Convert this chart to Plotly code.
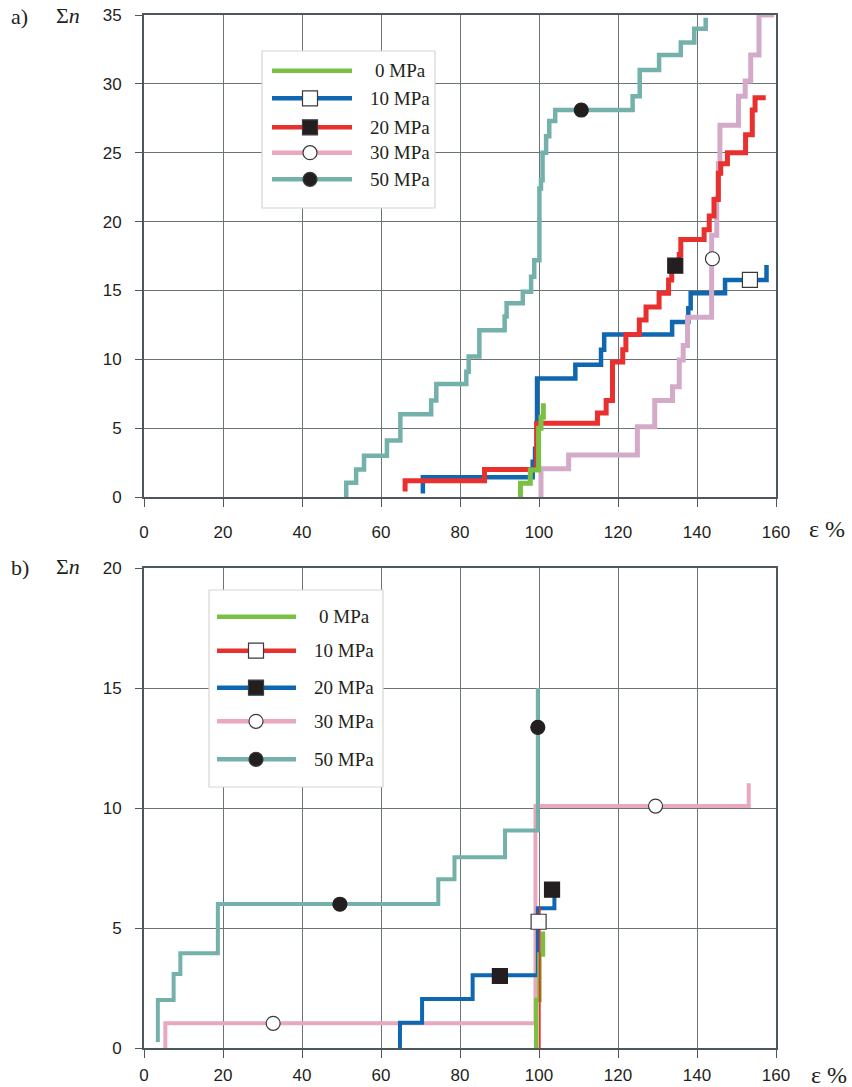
import plotly.graph_objects as go

# ---------------- panel a) : cumulative count Σn vs strain ε % ----------------
# each series: strain where a step occurs, level reached after the step
a0_x = [95.3, 97.8, 99.9, 100.5, 101.1]
a0_y = [1.0, 1.96, 5.0, 5.8, 6.8]

a10_x = [70.6, 98.4, 99.0, 99.5, 109.2, 115.7, 116.5, 133.7, 137.8, 138.4, 147.1, 157.6]
a10_y = [1.43, 2.56, 3.5, 8.6, 9.6, 10.7, 11.8, 12.7, 13.7, 14.8, 15.76, 16.85]
a10_start = 0.25

a20_x = [66.1, 86.2, 99.4, 114.8, 117.0, 118.6, 121.2, 122.0, 125.4, 127.1, 130.4,
         132.8, 133.6, 135.5, 135.9, 141.8, 143.1, 144.3, 145.4, 146.0, 147.7, 152.3,
         154.0, 154.7]
a20_y = [1.18, 2.0, 5.35, 6.1, 7.0, 9.8, 10.7, 11.8, 12.85, 13.8, 14.8,
         15.76, 16.6, 17.6, 18.7, 19.4, 20.4, 21.6, 23.5, 24.2, 25.0, 26.3,
         28.1, 29.0]
a20_start = 0.4
a20_end = 157.4

a30_x = [100.5, 107.5, 124.9, 129.3, 133.8, 135.5, 136.5, 137.6, 143.7, 145.0, 145.4,
         145.8, 150.5, 152.2, 153.6, 155.7]
a30_y = [2.05, 3.05, 5.1, 7.0, 8.0, 9.95, 11.0, 13.05, 19.0, 21.7, 24.2,
         27.0, 29.1, 30.2, 32.1, 35.0]
a30_end = 159.5

a50_x = [51.2, 53.7, 55.7, 61.5, 64.9, 72.7, 74.0, 81.6, 82.2, 84.9, 91.3, 91.8, 95.9,
         98.0, 98.8, 100.1, 100.5, 100.9, 101.8, 102.6, 104.1, 123.7, 125.5, 130.4,
         135.9, 139.3, 142.2]
a50_y = [1.04, 2.0, 3.0, 4.1, 6.0, 7.0, 8.2, 9.1, 10.2, 12.1, 13.1, 14.06, 14.9,
         16.0, 17.2, 22.4, 23.0, 25.0, 26.2, 27.3, 28.1, 29.1, 31.0, 32.1,
         33.0, 34.0, 34.8]

# symbol positions on the curves
a10_mark_x, a10_mark_y = [153.4], [15.76]
a20_mark_x, a20_mark_y = [134.5], [16.8]
a30_mark_x, a30_mark_y = [143.9], [17.3]
a50_mark_x, a50_mark_y = [110.7], [28.1]

# ---------------- panel b) ----------------
b0_x = [99.3, 100.1, 101.0]
b0_y = [2.0, 3.9, 4.85]

b10_x = [100.2]
b10_y = [5.9]

b20_x = [64.8, 70.4, 83.2, 99.7, 103.9]
b20_y = [1.05, 2.04, 3.03, 5.82, 6.4]

b30_x = [5.4, 99.1, 153.1]
b30_y = [1.03, 10.08, 11.03]

b50_x = [3.5, 7.5, 9.2, 18.7, 74.5, 78.6, 91.4, 99.7]
b50_y = [2.0, 3.08, 3.95, 6.0, 7.03, 7.95, 9.06, 15.0]
b50_start = 0.25

b10_mark_x, b10_mark_y = [99.9], [5.26]
b20_mark_x, b20_mark_y = [90.1, 103.3], [3.0, 6.6]
b30_mark_x, b30_mark_y = [32.7, 129.5], [1.03, 10.08]
b50_mark_x, b50_mark_y = [49.6, 99.7], [5.99, 13.36]

legend_labels = ["0 MPa", "10 MPa", "20 MPa", "30 MPa", "50 MPa"]
x_ticks = [0, 20, 40, 60, 80, 100, 120, 140, 160]

# ---------------- styling ----------------
GREEN = "#7ac143"
BLUE = "#0f67b1"
RED = "#e8302f"
PINK = "#e9a8bb"
LILAC = "#d3abc9"
TEAL = "#74b1ab"
DARK = "#231f20"

W, H = 852, 1087
ML, MR, MT, MB = 144, 76, 15, 39
PW, PH = W - ML - MR, H - MT - MB


def px_x(px):
    return (px - ML) / PW


def px_y(py):
    return (H - MB - py) / PH


def steps(xj, lv, start=0.0, x_end=None):
    xs = [xj[0]] + list(xj)
    ys = [start] + list(lv)
    if x_end is not None:
        xs.append(x_end)
        ys.append(lv[-1])
    return xs, ys


fig = go.Figure()


def add_curve(xj, lv, color, width, xa, ya, start=0.0, x_end=None):
    xs, ys = steps(xj, lv, start, x_end)
    fig.add_trace(go.Scatter(x=xs, y=ys, mode="lines", line=dict(color=color, width=width, shape="hv"),
                             xaxis=xa, yaxis=ya, showlegend=False, hoverinfo="skip"))


def add_marks(mx, my, symbol, filled, size, xa, ya):
    fig.add_trace(go.Scatter(
        x=mx, y=my, mode="markers", xaxis=xa, yaxis=ya, showlegend=False, hoverinfo="skip",
        marker=dict(symbol=symbol, size=size, color=DARK if filled else "white",
                    line=dict(color="#3a3a3a" if not filled else DARK, width=1.2))))


# panel a curves
add_curve(a50_x, a50_y, TEAL, 4.5, "x", "y")
add_curve(a10_x, a10_y, BLUE, 4.5, "x", "y", start=a10_start)
add_curve(a30_x, a30_y, LILAC, 5, "x", "y", x_end=a30_end)
add_curve(a20_x, a20_y, RED, 5, "x", "y", start=a20_start, x_end=a20_end)
add_curve(a0_x, a0_y, GREEN, 5, "x", "y")
add_marks(a10_mark_x, a10_mark_y, "square", False, 15, "x", "y")
add_marks(a20_mark_x, a20_mark_y, "square", True, 15, "x", "y")
add_marks(a30_mark_x, a30_mark_y, "circle", False, 14, "x", "y")
add_marks(a50_mark_x, a50_mark_y, "circle", True, 14, "x", "y")

# panel b curves
add_curve(b30_x, b30_y, PINK, 4, "x2", "y2")
add_curve(b50_x, b50_y, TEAL, 4, "x2", "y2", start=b50_start)
add_curve(b20_x, b20_y, BLUE, 4, "x2", "y2")
add_curve(b0_x, b0_y, GREEN, 4.5, "x2", "y2")
add_curve(b10_x, b10_y, RED, 1.8, "x2", "y2")
add_marks(b20_mark_x, b20_mark_y, "square", True, 15, "x2", "y2")
add_marks(b30_mark_x, b30_mark_y, "circle", False, 14, "x2", "y2")
add_marks(b50_mark_x, b50_mark_y, "circle", True, 14, "x2", "y2")
add_marks(b10_mark_x, b10_mark_y, "square", False, 15, "x2", "y2")

# ---------------- legends (drawn as shapes + text) ----------------
shapes = []
annotations = []
SERIF = "Liberation Serif, Times New Roman, serif"
SANS = "Liberation Sans, Arial, sans-serif"


def draw_legend(box, line_x, mark_x, text_x, rows, colors, markers, font_size):
    x0, y0, x1, y1 = box
    shapes.append(dict(type="rect", xref="paper", yref="paper",
                       x0=px_x(x0), x1=px_x(x1), y0=px_y(y1), y1=px_y(y0),
                       line=dict(color="#d6d6d6", width=1.2), fillcolor="white", layer="above"))
    for row, col, mk, lab in zip(rows, colors, markers, legend_labels):
        shapes.append(dict(type="line", xref="paper", yref="paper",
                           x0=px_x(line_x[0]), x1=px_x(line_x[1]), y0=px_y(row), y1=px_y(row),
                           line=dict(color=col, width=4.5), layer="above"))
        if mk is not None:
            kind, filled, size = mk
            half = size / 2
            shapes.append(dict(type=kind, xref="paper", yref="paper",
                               xsizemode="pixel", ysizemode="pixel",
                               xanchor=px_x(mark_x), yanchor=px_y(row),
                               x0=-half, x1=half, y0=-half, y1=half,
                               fillcolor=DARK if filled else "white",
                               line=dict(color="#3a3a3a", width=1.2), layer="above"))
        annotations.append(dict(text=lab, xref="paper", yref="paper", x=px_x(text_x), y=px_y(row),
                                xanchor="center", yanchor="middle", showarrow=False,
                                font=dict(family=SERIF, size=font_size, color="#231f20")))


draw_legend((262, 51, 435, 208), (272, 352), 310, 400,
            [70.7, 98.3, 127.3, 152.7, 179.3],
            [GREEN, BLUE, RED, PINK, TEAL],
            [None, ("rect", False, 15), ("rect", True, 15), ("circle", False, 14), ("circle", True, 14)],
            19)
draw_legend((209, 590, 383, 787), (217, 296), 256, 344,
            [616.7, 650.7, 687.7, 721.3, 759.3],
            [GREEN, RED, BLUE, PINK, TEAL],
            [None, ("rect", False, 15), ("rect", True, 15), ("circle", False, 14), ("circle", True, 14)],
            19)

# panel captions and axis names
for txt, x, y, size in [
    ("a)", 9, 16, 22), ("Σ<i>n</i>", 54, 15, 22), ("ε %", 807, 529, 24),
    ("b)", 9, 567, 22), ("Σ<i>n</i>", 54, 566, 22), ("ε %", 809, 1075, 24),
]:
    annotations.append(dict(text=txt, xref="paper", yref="paper", x=px_x(x), y=px_y(y),
                            xanchor="left", yanchor="middle", showarrow=False,
                            font=dict(family=SERIF, size=size, color="#231f20")))

GRID = "#6a7377"
AXIS = "#4e585c"
common_x = dict(range=[0, 160], tickvals=x_ticks, showgrid=True, gridcolor=GRID, gridwidth=1.3,
                zeroline=False, showline=True, linecolor=AXIS, linewidth=1.6, mirror=True,
                ticks="outside", ticklen=8, tickcolor=AXIS, tickwidth=1.2, automargin=False,
                tickfont=dict(family=SANS, size=17, color="#231f20"))
common_y = dict(showgrid=True, gridcolor=GRID, gridwidth=1.3, zeroline=False,
                showline=True, linecolor=AXIS, linewidth=1.8, mirror=True,
                ticks="outside", ticklen=7, tickcolor=AXIS, tickwidth=1.2,
                ticklabelstandoff=10, automargin=False,
                tickfont=dict(family=SANS, size=17, color="#231f20"))

fig.update_layout(
    width=W, height=H,
    margin=dict(l=ML, r=MR, t=MT, b=MB, autoexpand=False),
    paper_bgcolor="white", plot_bgcolor="white",
    showlegend=False,
    xaxis=dict(common_x, anchor="y", ticklabelstandoff=11),
    yaxis=dict(common_y, domain=[px_y(497), 1], range=[0, 35], dtick=5, anchor="x"),
    xaxis2=dict(common_x, anchor="y2", ticklabelstandoff=3),
    yaxis2=dict(common_y, domain=[0, px_y(568)], range=[0, 20], dtick=5, anchor="x2"),
    shapes=shapes,
    annotations=annotations,
)

fig.write_html("out.html")
